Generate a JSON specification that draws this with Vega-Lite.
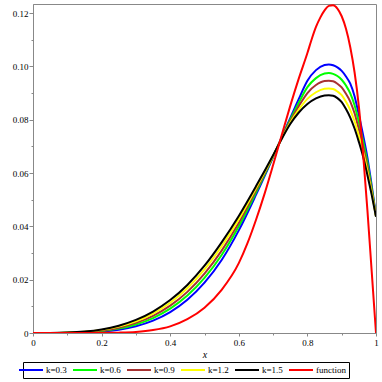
{
  "$schema": "https://vega.github.io/schema/vega-lite/v6.json",
  "width": 343,
  "height": 329,
  "autosize": {"type": "none"},
  "padding": {"left": 33, "top": 4, "right": 6, "bottom": 49},
  "background": "white",
  "config": {
    "view": {"stroke": "#888888", "strokeWidth": 1},
    "font": "Liberation Serif"
  },
  "datasets": {
    "kc": [
      {"x":0,"y":0,"s":"k=0.3"},{"x":0.05,"y":0.000002,"s":"k=0.3"},{"x":0.1,"y":0.00003,"s":"k=0.3"},{"x":0.15,"y":0.00017,"s":"k=0.3"},{"x":0.2,"y":0.00052,"s":"k=0.3"},{"x":0.25,"y":0.00125,"s":"k=0.3"},{"x":0.3,"y":0.00255,"s":"k=0.3"},{"x":0.35,"y":0.00466,"s":"k=0.3"},{"x":0.4,"y":0.00786,"s":"k=0.3"},{"x":0.45,"y":0.01248,"s":"k=0.3"},{"x":0.5,"y":0.01887,"s":"k=0.3"},{"x":0.55,"y":0.0274,"s":"k=0.3"},{"x":0.6,"y":0.0385,"s":"k=0.3"},{"x":0.65,"y":0.0518,"s":"k=0.3"},{"x":0.7,"y":0.066,"s":"k=0.3"},{"x":0.725,"y":0.0734,"s":"k=0.3"},{"x":0.75,"y":0.0806,"s":"k=0.3"},{"x":0.775,"y":0.0878,"s":"k=0.3"},{"x":0.8,"y":0.0946,"s":"k=0.3"},{"x":0.825,"y":0.0986,"s":"k=0.3"},{"x":0.85,"y":0.1005,"s":"k=0.3"},{"x":0.8625,"y":0.1007,"s":"k=0.3"},{"x":0.875,"y":0.1004,"s":"k=0.3"},{"x":0.8875,"y":0.0996,"s":"k=0.3"},{"x":0.9,"y":0.0983,"s":"k=0.3"},{"x":0.9125,"y":0.0962,"s":"k=0.3"},{"x":0.925,"y":0.0935,"s":"k=0.3"},{"x":0.9375,"y":0.0888,"s":"k=0.3"},{"x":0.95,"y":0.0818,"s":"k=0.3"},{"x":0.9625,"y":0.0742,"s":"k=0.3"},{"x":0.975,"y":0.0658,"s":"k=0.3"},{"x":0.9875,"y":0.0553,"s":"k=0.3"},{"x":1,"y":0.044,"s":"k=0.3"},
      {"x":0,"y":0,"s":"k=0.6"},{"x":0.05,"y":0.000007,"s":"k=0.6"},{"x":0.1,"y":0.000064,"s":"k=0.6"},{"x":0.15,"y":0.00027,"s":"k=0.6"},{"x":0.2,"y":0.00075,"s":"k=0.6"},{"x":0.25,"y":0.00167,"s":"k=0.6"},{"x":0.3,"y":0.00321,"s":"k=0.6"},{"x":0.35,"y":0.00561,"s":"k=0.6"},{"x":0.4,"y":0.00912,"s":"k=0.6"},{"x":0.45,"y":0.01403,"s":"k=0.6"},{"x":0.5,"y":0.02065,"s":"k=0.6"},{"x":0.55,"y":0.02925,"s":"k=0.6"},{"x":0.6,"y":0.04001,"s":"k=0.6"},{"x":0.65,"y":0.0527,"s":"k=0.6"},{"x":0.7,"y":0.0662,"s":"k=0.6"},{"x":0.725,"y":0.0732,"s":"k=0.6"},{"x":0.75,"y":0.08,"s":"k=0.6"},{"x":0.775,"y":0.0864,"s":"k=0.6"},{"x":0.8,"y":0.0922,"s":"k=0.6"},{"x":0.825,"y":0.0956,"s":"k=0.6"},{"x":0.85,"y":0.0973,"s":"k=0.6"},{"x":0.8625,"y":0.0975,"s":"k=0.6"},{"x":0.875,"y":0.0972,"s":"k=0.6"},{"x":0.8875,"y":0.0964,"s":"k=0.6"},{"x":0.9,"y":0.095,"s":"k=0.6"},{"x":0.9125,"y":0.0928,"s":"k=0.6"},{"x":0.925,"y":0.0899,"s":"k=0.6"},{"x":0.9375,"y":0.0854,"s":"k=0.6"},{"x":0.95,"y":0.079,"s":"k=0.6"},{"x":0.9625,"y":0.0719,"s":"k=0.6"},{"x":0.975,"y":0.064,"s":"k=0.6"},{"x":0.9875,"y":0.0543,"s":"k=0.6"},{"x":1,"y":0.0439,"s":"k=0.6"},
      {"x":0,"y":0,"s":"k=0.9"},{"x":0.05,"y":0.000012,"s":"k=0.9"},{"x":0.1,"y":0.000094,"s":"k=0.9"},{"x":0.15,"y":0.00037,"s":"k=0.9"},{"x":0.2,"y":0.00096,"s":"k=0.9"},{"x":0.25,"y":0.002,"s":"k=0.9"},{"x":0.3,"y":0.00381,"s":"k=0.9"},{"x":0.35,"y":0.00646,"s":"k=0.9"},{"x":0.4,"y":0.01025,"s":"k=0.9"},{"x":0.45,"y":0.01542,"s":"k=0.9"},{"x":0.5,"y":0.02225,"s":"k=0.9"},{"x":0.55,"y":0.0309,"s":"k=0.9"},{"x":0.6,"y":0.04136,"s":"k=0.9"},{"x":0.65,"y":0.0535,"s":"k=0.9"},{"x":0.7,"y":0.0664,"s":"k=0.9"},{"x":0.725,"y":0.0731,"s":"k=0.9"},{"x":0.75,"y":0.0794,"s":"k=0.9"},{"x":0.775,"y":0.0851,"s":"k=0.9"},{"x":0.8,"y":0.09,"s":"k=0.9"},{"x":0.825,"y":0.093,"s":"k=0.9"},{"x":0.85,"y":0.0945,"s":"k=0.9"},{"x":0.8625,"y":0.0946,"s":"k=0.9"},{"x":0.875,"y":0.0944,"s":"k=0.9"},{"x":0.8875,"y":0.0935,"s":"k=0.9"},{"x":0.9,"y":0.0921,"s":"k=0.9"},{"x":0.9125,"y":0.0897,"s":"k=0.9"},{"x":0.925,"y":0.0868,"s":"k=0.9"},{"x":0.9375,"y":0.0824,"s":"k=0.9"},{"x":0.95,"y":0.0764,"s":"k=0.9"},{"x":0.9625,"y":0.0699,"s":"k=0.9"},{"x":0.975,"y":0.0623,"s":"k=0.9"},{"x":0.9875,"y":0.0534,"s":"k=0.9"},{"x":1,"y":0.0438,"s":"k=0.9"},
      {"x":0,"y":0,"s":"k=1.2"},{"x":0.05,"y":0.000016,"s":"k=1.2"},{"x":0.1,"y":0.000124,"s":"k=1.2"},{"x":0.15,"y":0.00046,"s":"k=1.2"},{"x":0.2,"y":0.00117,"s":"k=1.2"},{"x":0.25,"y":0.00242,"s":"k=1.2"},{"x":0.3,"y":0.0044,"s":"k=1.2"},{"x":0.35,"y":0.00731,"s":"k=1.2"},{"x":0.4,"y":0.01137,"s":"k=1.2"},{"x":0.45,"y":0.0168,"s":"k=1.2"},{"x":0.5,"y":0.02384,"s":"k=1.2"},{"x":0.55,"y":0.03255,"s":"k=1.2"},{"x":0.6,"y":0.04271,"s":"k=1.2"},{"x":0.65,"y":0.0543,"s":"k=1.2"},{"x":0.7,"y":0.0665,"s":"k=1.2"},{"x":0.725,"y":0.0729,"s":"k=1.2"},{"x":0.75,"y":0.0789,"s":"k=1.2"},{"x":0.775,"y":0.0838,"s":"k=1.2"},{"x":0.8,"y":0.0878,"s":"k=1.2"},{"x":0.825,"y":0.0903,"s":"k=1.2"},{"x":0.85,"y":0.0916,"s":"k=1.2"},{"x":0.8625,"y":0.0917,"s":"k=1.2"},{"x":0.875,"y":0.0915,"s":"k=1.2"},{"x":0.8875,"y":0.0906,"s":"k=1.2"},{"x":0.9,"y":0.0892,"s":"k=1.2"},{"x":0.9125,"y":0.0867,"s":"k=1.2"},{"x":0.925,"y":0.0836,"s":"k=1.2"},{"x":0.9375,"y":0.0794,"s":"k=1.2"},{"x":0.95,"y":0.0739,"s":"k=1.2"},{"x":0.9625,"y":0.0679,"s":"k=1.2"},{"x":0.975,"y":0.0607,"s":"k=1.2"},{"x":0.9875,"y":0.0526,"s":"k=1.2"},{"x":1,"y":0.0437,"s":"k=1.2"},
      {"x":0,"y":0,"s":"k=1.5"},{"x":0.05,"y":0.00002,"s":"k=1.5"},{"x":0.1,"y":0.00015,"s":"k=1.5"},{"x":0.15,"y":0.00054,"s":"k=1.5"},{"x":0.2,"y":0.00135,"s":"k=1.5"},{"x":0.25,"y":0.00275,"s":"k=1.5"},{"x":0.3,"y":0.00492,"s":"k=1.5"},{"x":0.35,"y":0.00806,"s":"k=1.5"},{"x":0.4,"y":0.01236,"s":"k=1.5"},{"x":0.45,"y":0.01802,"s":"k=1.5"},{"x":0.5,"y":0.02524,"s":"k=1.5"},{"x":0.55,"y":0.034,"s":"k=1.5"},{"x":0.6,"y":0.0439,"s":"k=1.5"},{"x":0.65,"y":0.055,"s":"k=1.5"},{"x":0.7,"y":0.0667,"s":"k=1.5"},{"x":0.725,"y":0.0728,"s":"k=1.5"},{"x":0.75,"y":0.0784,"s":"k=1.5"},{"x":0.775,"y":0.0827,"s":"k=1.5"},{"x":0.8,"y":0.0859,"s":"k=1.5"},{"x":0.825,"y":0.088,"s":"k=1.5"},{"x":0.85,"y":0.0891,"s":"k=1.5"},{"x":0.8625,"y":0.0892,"s":"k=1.5"},{"x":0.875,"y":0.089,"s":"k=1.5"},{"x":0.8875,"y":0.0881,"s":"k=1.5"},{"x":0.9,"y":0.0866,"s":"k=1.5"},{"x":0.9125,"y":0.084,"s":"k=1.5"},{"x":0.925,"y":0.0808,"s":"k=1.5"},{"x":0.9375,"y":0.0767,"s":"k=1.5"},{"x":0.95,"y":0.0717,"s":"k=1.5"},{"x":0.9625,"y":0.0661,"s":"k=1.5"},{"x":0.975,"y":0.0592,"s":"k=1.5"},{"x":0.9875,"y":0.0518,"s":"k=1.5"},{"x":1,"y":0.0436,"s":"k=1.5"}
    ],
    "fn": [
      {"x":0,"y":0,"s":"function"},{"x":0.1,"y":0,"s":"function"},{"x":0.15,"y":0.00001,"s":"function"},{"x":0.2,"y":0.00004,"s":"function"},{"x":0.25,"y":0.00013,"s":"function"},{"x":0.3,"y":0.0004,"s":"function"},{"x":0.35,"y":0.0011,"s":"function"},{"x":0.4,"y":0.0025,"s":"function"},{"x":0.45,"y":0.0052,"s":"function"},{"x":0.5,"y":0.0095,"s":"function"},{"x":0.55,"y":0.0162,"s":"function"},{"x":0.6,"y":0.0262,"s":"function"},{"x":0.625,"y":0.0336,"s":"function"},{"x":0.65,"y":0.0424,"s":"function"},{"x":0.675,"y":0.0522,"s":"function"},{"x":0.7,"y":0.063,"s":"function"},{"x":0.725,"y":0.0742,"s":"function"},{"x":0.75,"y":0.0852,"s":"function"},{"x":0.775,"y":0.0955,"s":"function"},{"x":0.8,"y":0.105,"s":"function"},{"x":0.8125,"y":0.1102,"s":"function"},{"x":0.825,"y":0.1148,"s":"function"},{"x":0.8375,"y":0.1183,"s":"function"},{"x":0.85,"y":0.121,"s":"function"},{"x":0.8625,"y":0.1227,"s":"function"},{"x":0.875,"y":0.1229,"s":"function"},{"x":0.8875,"y":0.1217,"s":"function"},{"x":0.9,"y":0.1188,"s":"function"},{"x":0.9125,"y":0.1141,"s":"function"},{"x":0.925,"y":0.1072,"s":"function"},{"x":0.9375,"y":0.0978,"s":"function"},{"x":0.95,"y":0.085,"s":"function"},{"x":0.9625,"y":0.067,"s":"function"},{"x":0.975,"y":0.046,"s":"function"},{"x":0.9875,"y":0.023,"s":"function"},{"x":1,"y":0,"s":"function"}
    ]
  },
  "encoding": {
    "x": {
      "field": "x", "type": "quantitative",
      "scale": {"domain": [0, 1], "nice": false, "zero": false},
      "axis": {
        "values": [0,0.1,0.2,0.3,0.4,0.5,0.6,0.7,0.8,0.9,1],
        "labelExpr": "abs(datum.value*5-round(datum.value*5))>0.01 ? '' : format(datum.value,'~g')",
        "tickSize": {"condition": {"test": "abs(datum.value*5-round(datum.value*5))>0.01", "value": 2}, "value": 3},
        "grid": false, "labelFlush": false, "labelOverlap": false,
        "domainColor": "#888888", "tickColor": "#888888",
        "labelFont": "Liberation Serif", "labelFontSize": 9, "labelColor": "#000000", "labelPadding": 2,
        "title": "x", "titleFont": "Liberation Serif", "titleFontSize": 10, "titleFontStyle": "italic",
        "titleFontWeight": "normal", "titleColor": "#000000", "titlePadding": 2
      }
    },
    "y": {
      "field": "y", "type": "quantitative",
      "scale": {"domain": [0, 0.1234], "nice": false},
      "axis": {
        "values": [0,0.01,0.02,0.03,0.04,0.05,0.06,0.07,0.08,0.09,0.1,0.11,0.12],
        "labelExpr": "abs(datum.value*50-round(datum.value*50))>0.01 ? '' : (datum.value==0 ? '0' : format(datum.value,'.2f'))",
        "tickSize": {"condition": {"test": "abs(datum.value*50-round(datum.value*50))>0.01", "value": 2}, "value": 4},
        "grid": false, "labelOverlap": false, "labelFlush": false,
        "domainColor": "#888888", "tickColor": "#888888",
        "labelFont": "Liberation Serif", "labelFontSize": 9, "labelColor": "#000000", "labelPadding": 1,
        "title": null
      }
    },
    "color": {
      "field": "s", "type": "nominal",
      "scale": {
        "domain": ["k=0.3","k=0.6","k=0.9","k=1.2","k=1.5","function"],
        "range": ["#0000ff","#00ff00","#a83232","#ffff00","#000000","#ff0000"]
      },
      "legend": {
        "orient": "none", "legendX": -10, "legendY": 358, "direction": "horizontal",
        "title": null, "symbolType": "M-3,0H3", "symbolSize": 64, "symbolStrokeWidth": 2,
        "labelFont": "Liberation Serif", "labelFontSize": 9, "labelColor": "#000000",
        "labelOffset": 10, "columnPadding": 2, "padding": 3,
        "strokeColor": "#000000", "fillColor": "#ffffff", "cornerRadius": 0
      }
    }
  },
  "layer": [
    {
      "data": {"name": "kc"},
      "mark": {"type": "line", "strokeWidth": 2, "interpolate": "monotone", "clip": true}
    },
    {
      "data": {"name": "fn"},
      "mark": {"type": "line", "strokeWidth": 2, "interpolate": "monotone", "clip": true}
    }
  ]
}
